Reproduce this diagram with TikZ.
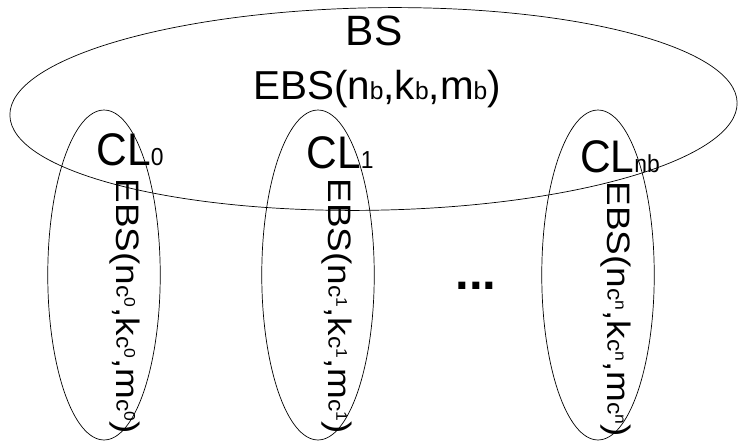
\documentclass[tikz,border=0pt]{standalone}
\usepackage{fontspec}
\setmainfont{Liberation Sans}
\usetikzlibrary{shapes.geometric}

% small index letters sitting on the baseline
\newcommand{\idx}[1]{{\fontsize{14}{14}\selectfont #1}}
% raised index on an index
\newcommand{\upidx}[1]{\raisebox{0.45ex}{\fontsize{10}{10}\selectfont #1}}

\begin{document}
\begin{tikzpicture}[x=0.02cm, y=-0.02cm]
    % Define styles
    \tikzset{
        outer/.style={
            draw,
            ellipse,
            minimum width=14.55cm,
            minimum height=4.05cm,
            inner sep=0pt
        },
        cluster/.style={
            draw,
            ellipse,
            minimum width=2.25cm,
            minimum height=6.6cm,
            inner sep=0pt
        },
        bigtext/.style={
            font=\fontsize{23}{23}\selectfont,
            inner sep=0pt
        },
        cltext/.style={
            font=\fontsize{26}{26}\selectfont,
            xscale=0.93,
            inner sep=0pt
        },
        sidetext/.style={
            font=\fontsize{21}{21}\selectfont,
            rotate=-90,
            yscale=0.88,
            inner sep=0pt
        }
    }
    \useasboundingbox (0,0) rectangle (742,446);

    % Base station
    \node[outer, rotate=1] (bs) at (373.5,109) {};
    \node[bigtext, scale=1.05] (bsname) at (374,31) {BS};
    \node[bigtext] (bscode) at (377,89) {EBS(n\idx{b},k\idx{b},m\idx{b})};

    % Clusters
    \node[cluster] (cl0) at (104,275) {};
    \node[cluster] (cl1) at (318,275) {};
    \node[cluster] (cln) at (598,275) {};

    \node[cltext] (cl0name) at (130,150) {CL\idx{0}};
    \node[cltext] (cl1name) at (340,153) {CL\idx{1}};
    \node[cltext] (clnname) at (620,157) {CL\idx{nb}};

    \node[sidetext] (cl0code) at (125,306) {EBS(n\idx{c}\upidx{0},k\idx{c}\upidx{0},m\idx{c}\upidx{0})};
    \node[sidetext] (cl1code) at (337,306) {EBS(n\idx{c}\upidx{1},k\idx{c}\upidx{1},m\idx{c}\upidx{1})};
    \node[sidetext] (clncode) at (616,309) {EBS(n\idx{c}\upidx{n},k\idx{c}\upidx{n},m\idx{c}\upidx{n})};

    % Further clusters
    \node[bigtext, font=\fontsize{28}{28}\selectfont\bfseries] (dots) at (476,286) {...};
\end{tikzpicture}
\end{document}
